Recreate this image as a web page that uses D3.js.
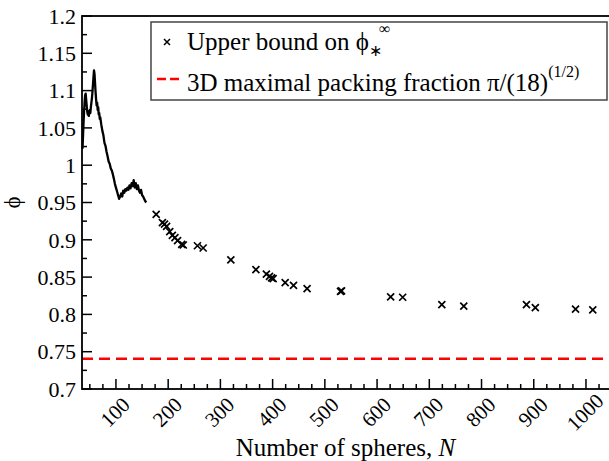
<!DOCTYPE html>
<html>
<head>
<meta charset="utf-8">
<script src="https://cdn.jsdelivr.net/npm/d3@7"></script>
</head>
<body style="margin:0;background:#fff">
<svg id="chart" width="609" height="461" style="display:block"></svg>
<script>
// ---- data ----
const curveN = [36,37,38,39,40,41,42,43,44,45,46,47,48,49,50,51,52,53,54,55,56,57,58,59,60,61,62,63,64,65,66,67,68,69,70,72,74,76,78,80,82,84,86,88,90,92,94,96,98,100,102,104,106,108,110,112,114,116,118,120,122,124,126,128,130,132,134,136,138,140,142,144,146,148,150,152,154,156,158];
const curvePhi = [1.022,1.040,1.058,1.072,1.085,1.094,1.096,1.088,1.080,1.072,1.068,1.072,1.066,1.070,1.074,1.070,1.078,1.084,1.090,1.098,1.108,1.118,1.127,1.122,1.110,1.098,1.088,1.080,1.084,1.074,1.078,1.068,1.070,1.062,1.064,1.054,1.046,1.040,1.030,1.026,1.018,1.012,1.005,1.002,0.996,0.993,0.988,0.982,0.975,0.970,0.965,0.960,0.955,0.958,0.962,0.958,0.966,0.963,0.968,0.966,0.970,0.967,0.973,0.969,0.976,0.972,0.980,0.970,0.976,0.968,0.973,0.966,0.963,0.967,0.960,0.958,0.955,0.952,0.950];
const pointN = [177,189,193,197,203,208,213,218,226,229,256,267,320,368,388,394,398,401,424,440,466,530,532,626,649,724,766,886,903,980,1013];
const pointPhi = [0.934,0.923,0.921,0.918,0.911,0.906,0.903,0.899,0.894,0.893,0.892,0.889,0.873,0.860,0.854,0.851,0.849,0.848,0.8425,0.839,0.8345,0.831,0.8315,0.8235,0.823,0.813,0.811,0.813,0.809,0.807,0.806];
const packingFraction = Math.PI / Math.sqrt(18);
const yTickValues = [0.7,0.75,0.8,0.85,0.9,0.95,1.0,1.05,1.1,1.15,1.2];
const xTickValues = [100,200,300,400,500,600,700,800,900,1000];
const legendLabels = ["Upper bound on ϕ", "3D maximal packing fraction π/(18)"];

const FONT = "Liberation Serif";

// ---- layout ----
const svg = d3.select("#chart");
const L = 82, R = 610, T = 16, B = 389;
const x = d3.scaleLinear().domain([35, 1046]).range([L, R]);
const y = d3.scaleLinear().domain([0.7, 1.2]).range([B, T]);

svg.append("rect").attr("width", 609).attr("height", 461).attr("fill", "#fff");

// packing line
svg.append("line")
  .attr("x1", L).attr("x2", R)
  .attr("y1", y(packingFraction)).attr("y2", y(packingFraction))
  .attr("stroke", "#ff0000").attr("stroke-width", 2.5)
  .attr("stroke-dasharray", "11,6");

// curve
svg.append("path")
  .datum(curveN.map((n, i) => [n, curvePhi[i]]))
  .attr("fill", "none").attr("stroke", "#000").attr("stroke-width", 2.3)
  .attr("stroke-linejoin", "round")
  .attr("d", d3.line().x(d => x(d[0])).y(d => y(d[1])));

// crosses
const s = 3.5;
const crosses = svg.append("g").attr("stroke", "#000").attr("stroke-width", 1.7);
pointN.forEach((n, i) => {
  const cx = x(n), cy = y(pointPhi[i]);
  crosses.append("path").attr("d", `M${cx-s},${cy-s}L${cx+s},${cy+s}M${cx-s},${cy+s}L${cx+s},${cy-s}`);
});

// frame
svg.append("rect").attr("x", L).attr("y", T).attr("width", R - L).attr("height", B - T)
  .attr("fill", "none").attr("stroke", "#000").attr("stroke-width", 1.8);

// y ticks
const yMinor = d3.range(0.725, 1.2, 0.05);
const gy = svg.append("g").attr("stroke", "#000").attr("stroke-width", 1.5);
yTickValues.forEach(v => gy.append("line").attr("x1", L).attr("x2", L + 10).attr("y1", y(v)).attr("y2", y(v)));
yMinor.forEach(v => gy.append("line").attr("x1", L).attr("x2", L + 5).attr("y1", y(v)).attr("y2", y(v)));
svg.append("g").selectAll("text").data(yTickValues).join("text")
  .style("font-family", FONT)
  .attr("x", L - 6).attr("y", d => y(d)).attr("dy", "0.35em")
  .attr("text-anchor", "end").attr("font-size", 22)
  .text(d => String(+d.toFixed(2)));

// x ticks
const xMinor = d3.range(50, 1046, 25).filter(v => v % 100 !== 0);
const gx = svg.append("g").attr("stroke", "#000").attr("stroke-width", 1.5);
xTickValues.forEach(v => gx.append("line").attr("x1", x(v)).attr("x2", x(v)).attr("y1", B).attr("y2", B - 10));
xMinor.forEach(v => gx.append("line").attr("x1", x(v)).attr("x2", x(v)).attr("y1", B).attr("y2", B - 5));
svg.append("g").selectAll("text").data(xTickValues).join("text")
  .style("font-family", FONT)
  .attr("transform", d => `translate(${x(d) - 1},${B + 23}) rotate(-45)`)
  .attr("dy", "0.35em")
  .attr("text-anchor", "middle").attr("font-size", 21)
  .text(d => d);

// axis titles
const xt = svg.append("text").style("font-family", FONT)
  .attr("x", (L + 609) / 2).attr("y", 456)
  .attr("text-anchor", "middle").attr("font-size", 25);
xt.append("tspan").text("Number of spheres, ");
xt.append("tspan").attr("font-style", "italic").text("N");

svg.append("text").style("font-family", FONT)
  .attr("transform", `translate(20,${(T + B) / 2}) rotate(-90)`)
  .attr("text-anchor", "middle").attr("font-size", 23).text("ϕ");

// legend
const lg = svg.append("g");
lg.append("rect").attr("x", 151).attr("y", 22).attr("width", 456).attr("height", 78)
  .attr("fill", "#fff").attr("stroke", "#444").attr("stroke-width", 1.5);
const lx = 167, ly1 = 42, ly2 = 79;
lg.append("path").attr("stroke", "#000").attr("stroke-width", 1.5)
  .attr("d", `M${lx-3},${ly1-3}L${lx+3},${ly1+3}M${lx-3},${ly1+3}L${lx+3},${ly1-3}`);
lg.append("line").attr("x1", 157).attr("x2", 179).attr("y1", ly2).attr("y2", ly2)
  .attr("stroke", "#ff0000").attr("stroke-width", 2.5).attr("stroke-dasharray", "9,4");
const t1 = lg.append("text").style("font-family", FONT).attr("x", 187).attr("y", 50).attr("font-size", 25);
t1.append("tspan").text(legendLabels[0]);
t1.append("tspan").attr("font-size", 16).attr("dy", 6).text("∗");
t1.append("tspan").attr("font-size", 16).attr("dx", -3).attr("dy", -22).text("∞");
const t2 = lg.append("text").style("font-family", FONT).attr("x", 187).attr("y", 91).attr("font-size", 25);
t2.append("tspan").text(legendLabels[1]);
t2.append("tspan").attr("font-size", 16).attr("dy", -14).text("(1/2)");
</script>
</body>
</html>
